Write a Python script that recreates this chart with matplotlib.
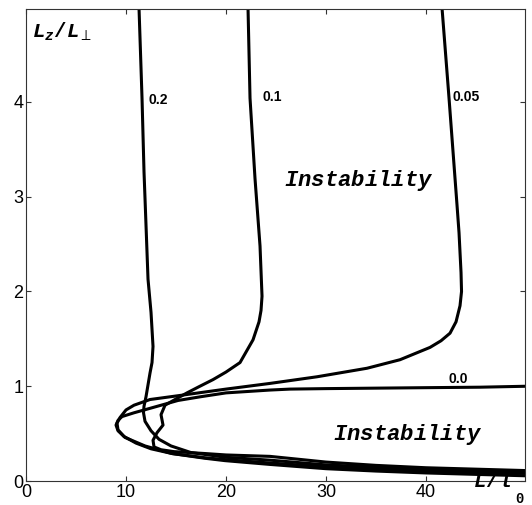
import matplotlib
matplotlib.use("Agg")
import matplotlib.pyplot as plt

plt.rcParams["font.family"] = ["Liberation Sans", "DejaVu Sans"]
plt.rcParams["mathtext.fontset"] = "custom"
plt.rcParams["mathtext.rm"] = "Liberation Mono:bold"
plt.rcParams["mathtext.it"] = "Liberation Mono:italic:bold"
plt.rcParams["mathtext.bf"] = "Liberation Mono:bold"

# Marginal-stability curves, labelled by parameter value.
# Each runs from the vertical upper branch, round the nose, out along the lower branch.
x_02 = [11.3, 11.6, 11.8, 11.9, 12.2, 12.5, 12.7, 12.6, 12.4, 12.0, 11.8, 11.75,
        11.9, 12.5, 13.3, 14.5, 16.5, 20.0, 24.4, 30.0, 35.0, 40.0, 45.0, 50.0]
y_02 = [4.99, 4.04, 3.26, 2.98, 2.13, 1.78, 1.42, 1.25, 1.14, 0.89, 0.79, 0.72,
        0.63, 0.53, 0.44, 0.37, 0.30, 0.25, 0.22, 0.17, 0.145, 0.12, 0.11, 0.10]

x_01 = [22.2, 22.4, 22.9, 23.4, 23.6, 23.5, 23.3, 22.7, 21.4, 20.0, 18.7, 17.2,
        16.1, 14.9, 13.9, 13.5, 13.7, 13.1, 12.7, 12.8, 13.5, 14.8, 17.9, 20.0,
        24.4, 30.0, 35.0, 40.0, 45.0, 50.0]
y_01 = [4.99, 4.04, 3.19, 2.48, 1.95, 1.80, 1.68, 1.49, 1.25, 1.15, 1.07, 0.99,
        0.93, 0.86, 0.80, 0.70, 0.59, 0.51, 0.43, 0.36, 0.33, 0.31, 0.29, 0.275,
        0.26, 0.20, 0.165, 0.14, 0.125, 0.11]

x_005 = [41.6, 42.3, 43.1, 43.3, 43.5, 43.55, 43.4, 43.0, 42.4, 41.5, 40.4, 37.4,
         34.1, 29.1, 24.4, 20.0, 15.2, 12.4, 10.8, 10.0, 9.4, 9.1, 9.2, 9.8,
         11.0, 12.5, 14.6, 17.9, 20.0, 24.4, 30.0, 35.0, 40.0, 45.0, 50.0]
y_005 = [4.99, 4.04, 2.91, 2.62, 2.20, 2.00, 1.85, 1.68, 1.56, 1.48, 1.41, 1.28,
         1.19, 1.10, 1.03, 0.97, 0.90, 0.86, 0.80, 0.75, 0.67, 0.61, 0.54, 0.47,
         0.40, 0.34, 0.29, 0.245, 0.225, 0.19, 0.15, 0.125, 0.105, 0.09, 0.08]

x_00 = [50.0, 45.4, 40.0, 35.0, 30.0, 26.4, 24.4, 20.0, 17.5, 15.2, 12.5, 10.8,
        9.6, 9.2, 9.0, 9.2, 9.9, 11.9, 14.6, 17.9, 19.9, 24.4, 30.0, 35.0, 40.0,
        45.0, 50.0]
y_00 = [1.00, 0.99, 0.985, 0.98, 0.975, 0.97, 0.96, 0.93, 0.89, 0.85, 0.77, 0.72,
        0.68, 0.64, 0.59, 0.53, 0.46, 0.37, 0.29, 0.24, 0.215, 0.175, 0.13, 0.105,
        0.085, 0.07, 0.055]

curves = [(x_02, y_02), (x_01, y_01), (x_005, y_005), (x_00, y_00)]
curve_labels = ["0.2", "0.1", "0.05", "0.0"]
label_pos = [(12.2, 4.02), (23.6, 4.05), (42.6, 4.05), (42.2, 1.08)]

x_ticks = [0, 10, 20, 30, 40]
y_ticks = [0, 1, 2, 3, 4]

fig = plt.figure(figsize=(5.32, 5.05), dpi=100)
ax = fig.add_axes([0.0489, 0.0475, 0.938, 0.9345])

for xs, ys in curves:
    ax.plot(xs, ys, color="black", lw=2.2, solid_capstyle="butt")

for text, (lx, ly) in zip(curve_labels, label_pos):
    ax.text(lx, ly, text, fontsize=10, fontweight="bold", ha="left", va="center")

ax.text(33.3, 3.17, r"$Instability$", fontsize=16, ha="center", va="center")
ax.text(38.2, 0.49, r"$Instability$", fontsize=16, ha="center", va="center")

ax.text(0.012, 0.975, r"$L_z/L_\perp$", transform=ax.transAxes, fontsize=15,
        ha="left", va="top")
# x-axis label sits below the frame, in the bottom-right corner
fig.text(473 / 532, 1 - 487 / 505, r"$L/l$", fontsize=15, ha="left", va="baseline")
fig.text(515 / 532, 1 - 492 / 505, r"$0$", fontsize=10, ha="left", va="top")

ax.set_xlim(0, 49.9)
ax.set_ylim(0, 4.98)
ax.set_xticks(x_ticks)
ax.set_yticks(y_ticks)
ax.tick_params(direction="in", top=True, right=True, length=3.5, width=0.8,
               labelsize=13, color="#333333", pad=2)
for sp in ax.spines.values():
    sp.set_color("#333333")
    sp.set_linewidth(0.8)

fig.savefig("out.png", dpi=100)
